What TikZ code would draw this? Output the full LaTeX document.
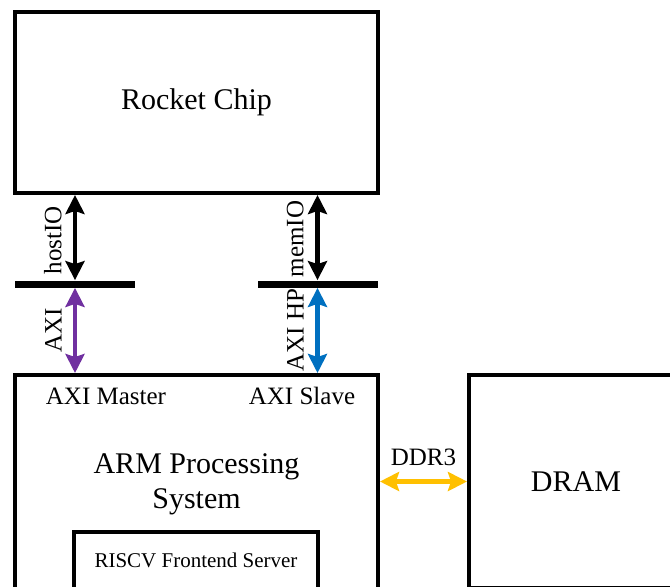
\documentclass[tikz,border=0pt]{standalone}
\usepackage{fontspec}
\setmainfont{Liberation Serif}
\usetikzlibrary{arrows.meta}

\definecolor{axipurple}{HTML}{7030A0}
\definecolor{axiblue}{HTML}{0070C0}
\definecolor{ddrorange}{HTML}{FFC000}

\begin{document}
\begin{tikzpicture}[x=0.5pt, y=-0.5pt, >={Stealth[length=9.5pt, width=9.5pt, inset=1.5pt]},
    box/.style={draw, line width=2pt, inner sep=0pt},
    bar/.style={fill=black, inner sep=0pt, minimum height=3.5pt, minimum width=60pt},
    link/.style={<->, line width=2.4pt},
    big/.style={font=\fontsize{15pt}{17.5pt}\selectfont},
    lbl/.style={font=\fontsize{12.5pt}{14pt}\selectfont, text=black}]
    \clip (0,0) rectangle (670,586);
    % blocks
    \node[box, big, minimum width=181.5pt, minimum height=90.5pt] (rocket) at (196.5,102.5) {Rocket Chip};
    \node[box, minimum width=181.5pt, minimum height=132.5pt] (arm) at (196.5,507.5) {};
    \node[box, big, minimum width=107pt, minimum height=106.5pt] (dram) at (576,481.5) {DRAM};
    \node[box, minimum width=122pt, minimum height=40pt] (riscv) at (196,572) {};
    \node[font=\fontsize{10.5pt}{12pt}\selectfont] (riscvlbl) at (196,560) {RISCV Frontend Server};
    \node[big, align=center, anchor=base] (armlbl) at (196.5,508) {ARM Processing\\System};
    \node[lbl, anchor=base] (mastlbl) at (106,404) {AXI Master};
    \node[lbl, anchor=base] (slavlbl) at (302,404) {AXI Slave};
    % buses
    \node[bar] (hostbar) at (75,284) {};
    \node[bar] (membar) at (317.5,284) {};
    \draw[link] (rocket.south -| hostbar) -- (hostbar.north);
    \draw[link, axipurple] (hostbar.south) -- (arm.north -| hostbar);
    \draw[link] (rocket.south -| membar) -- (membar.north);
    \draw[link, axiblue] (membar.south) -- (arm.north -| membar);
    \node[lbl, rotate=90, anchor=south, inner sep=0pt] (hostlbl) at (62,240) {hostIO};
    \node[lbl, rotate=90, anchor=south, inner sep=0pt] (axilbl) at (62,330) {AXI};
    \node[lbl, rotate=90, anchor=south, inner sep=0pt] (memlbl) at (304,239) {memIO};
    \node[lbl, rotate=90, anchor=south, inner sep=0pt] (hplbl) at (304,330) {AXI HP};
    % memory
    \draw[link, ddrorange] (arm.east |- dram) -- (dram.west) node[midway, above=3.5pt, lbl] (ddrlbl) {DDR3};
\end{tikzpicture}
\end{document}
